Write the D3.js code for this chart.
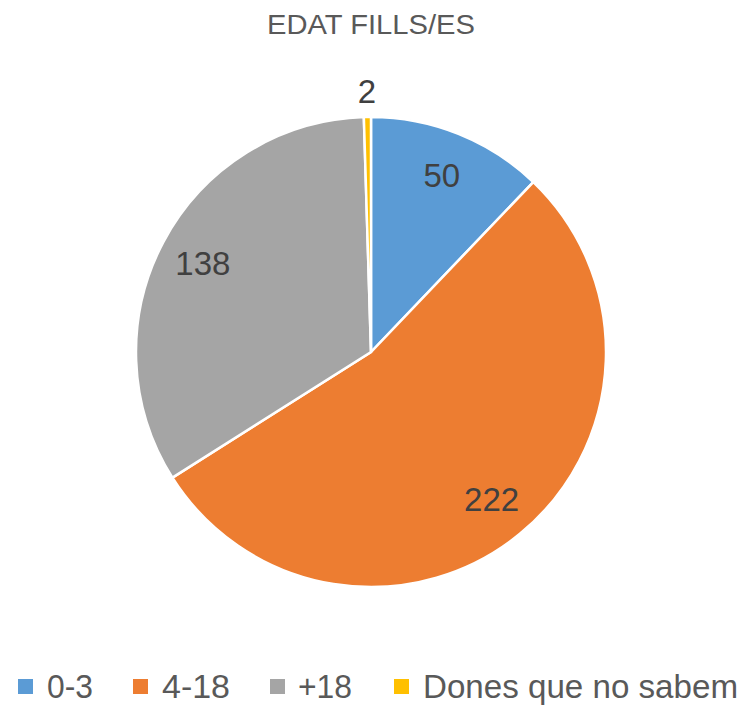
<!DOCTYPE html>
<html>
<head>
<meta charset="utf-8">
<script src="https://cdn.jsdelivr.net/npm/d3@7"></script>
<style>
  body { margin: 0; background: #fff; }
  text { font-family: 'Liberation Sans', 'Open Sans', sans-serif; }
</style>
</head>
<body>
<svg id="container" width="748" height="708"></svg>
<script>
const categories = ['0-3', '4-18', '+18', 'Dones que no sabem']
const values = [50, 222, 138, 2]
const colors = ['#5B9BD5', '#ED7D31', '#A5A5A5', '#FFC000']

const svg = d3.select('#container')
const cx = 371
const cy = 352
const radius = 235

svg
  .append('text')
  .attr('x', cx)
  .attr('y', 34)
  .attr('text-anchor', 'middle')
  .attr('textLength', 208)
  .attr('lengthAdjust', 'spacingAndGlyphs')
  .style('font-size', '27px')
  .style('fill', '#595959')
  .text('EDAT FILLS/ES')

const pie = d3.pie().sort(null).value((d) => d)
const arcs = pie(values)
const arc = d3.arc().innerRadius(0).outerRadius(radius)
const labelArc = d3.arc().innerRadius(radius * 0.81).outerRadius(radius * 0.81)
const outerArc = d3.arc().innerRadius(radius * 1.11).outerRadius(radius * 1.11)

const g = svg.append('g').attr('transform', `translate(${cx},${cy})`)

g.selectAll('path')
  .data(arcs)
  .enter()
  .append('path')
  .attr('d', arc)
  .style('fill', (d, i) => colors[i])
  .style('stroke', '#fff')
  .style('stroke-width', 2.5)

g.selectAll('.label')
  .data(arcs)
  .enter()
  .append('text')
  .attr('class', 'label')
  .attr('transform', (d) => {
    const small = d.endAngle - d.startAngle < 0.1
    const p = small ? outerArc.centroid(d) : labelArc.centroid(d)
    return `translate(${p[0]},${p[1]})`
  })
  .attr('text-anchor', 'middle')
  .attr('dy', '0.36em')
  .style('font-size', '33px')
  .style('fill', '#404040')
  .text((d) => d.data)

// legend
const legendX = [18, 133, 270, 394]
const textX = [47, 162, 298, 423]
const textW = [46, 68, 54, 315]
const legend = svg
  .selectAll('.legend')
  .data(categories)
  .enter()
  .append('g')
  .attr('class', 'legend')

legend
  .append('rect')
  .attr('x', (d, i) => legendX[i])
  .attr('y', 679)
  .attr('width', 15)
  .attr('height', 15)
  .style('fill', (d, i) => colors[i])

legend
  .append('text')
  .attr('x', (d, i) => textX[i])
  .attr('y', 698)
  .attr('textLength', (d, i) => textW[i])
  .attr('lengthAdjust', 'spacingAndGlyphs')
  .style('font-size', '33px')
  .style('fill', '#595959')
  .text((d) => d)
</script>
</body>
</html>
